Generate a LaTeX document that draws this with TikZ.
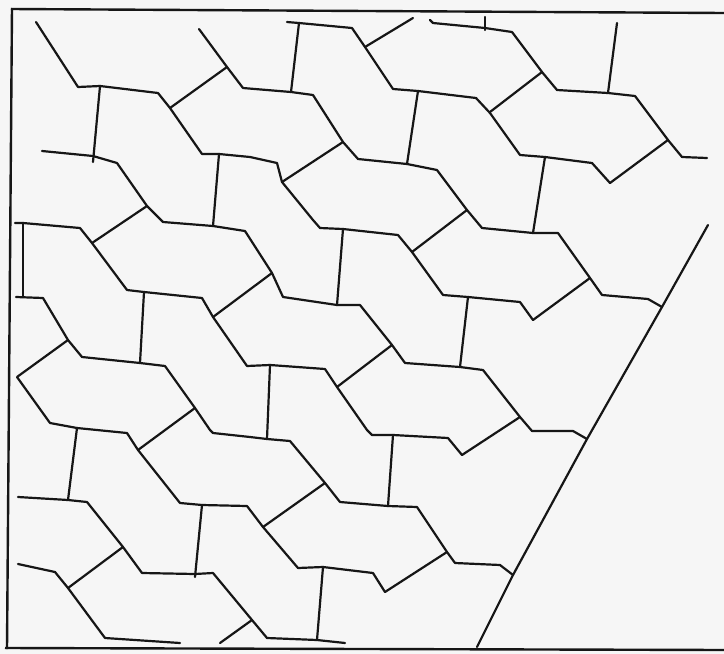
\documentclass[tikz,border=0pt]{standalone}
\usetikzlibrary{calc}
\definecolor{paper}{RGB}{246,246,246}
\definecolor{ink}{RGB}{22,22,22}
\tikzset{
  tl/.style={draw=ink, line width=2.2pt, line join=round, line cap=round},
  fr/.style={draw=ink, line width=2.4pt, line cap=butt},
}
\begin{document}
\begin{tikzpicture}[x=1pt,y=-1pt]
\fill[paper] (0,0) rectangle (724,654);
\useasboundingbox (0,0) rectangle (724,654);
% frame
\draw[fr] (11,9) -- (724,13);
\draw[fr] (12,8) -- (7,649);
\draw[fr] (5,648) -- (724,650);
% tiling chains
\draw[tl] (36,22)--(78,87)--(100,86)--(158,93)--(170,108)--(202,154)--(219,154)--(250,157)--(277,163)--(282,182)--(313,220)--(320,228)--(343,229)--(398,235)--(412,252)--(443,295)--(468,297)--(520,302)--(533,320);
\draw[tl] (100,86)--(93,162);
\draw[tl] (170,108)--(227,67);
\draw[tl] (199,29)--(227,67)--(243,88)--(291,92)--(313,95)--(343,142)--(358,159)--(407,164)--(437,170)--(467,210)--(482,228)--(533,233)--(558,233)--(590,278)--(602,295)--(648,299)--(662,307);
\draw[tl] (219,154)--(213,226);
\draw[tl] (42,151)--(93,156)--(117,163)--(147,206)--(163,222)--(213,226)--(245,231)--(272,273)--(283,297)--(337,305)--(360,305)--(392,345)--(405,363)--(460,367)--(483,370)--(520,417)--(532,431)--(573,431)--(587,439);
\draw[tl] (147,206)--(92,243);
\draw[tl] (287,22)--(299,23)--(352,28)--(365,47)--(393,89)--(418,91)--(476,98)--(490,113)--(520,155)--(545,157)--(592,163)--(610,183);
\draw[tl] (299,23)--(291,92);
\draw[tl] (365,47)--(413,18);
\draw[tl] (430,20)--(433,23)--(485,28)--(512,32)--(542,72)--(557,90)--(608,93)--(635,96)--(668,140)--(682,157)--(707,158);
\draw[tl] (485,17)--(485,30);
\draw[tl] (617,23)--(608,93);
\draw[tl] (542,72)--(490,112);
\draw[tl] (668,140)--(610,183);
\draw[tl] (343,142)--(282,182);
\draw[tl] (418,91)--(407,164);
\draw[tl] (545,157)--(533,233);
\draw[tl] (467,210)--(412,252);
\draw[tl] (15,223)--(23,223)--(80,228)--(92,243)--(127,290)--(144,292)--(202,298)--(213,317)--(247,366)--(270,365)--(325,369)--(337,387)--(367,430)--(372,435)--(393,435)--(448,438)--(462,455);
\draw[tl] (23,223)--(23,297);
\draw[tl] (16,297)--(43,298)--(68,340)--(82,357)--(140,363)--(165,366)--(195,408)--(210,430)--(213,433)--(250,437)--(267,439)--(290,441)--(325,483)--(340,502)--(388,506)--(417,507)--(447,552)--(455,563)--(500,565)--(513,575);
\draw[tl] (144,292)--(140,363);
\draw[tl] (213,317)--(272,273);
\draw[tl] (343,229)--(337,305);
\draw[tl] (468,297)--(460,367);
\draw[tl] (392,345)--(337,387);
\draw[tl] (590,278)--(533,320);
\draw[tl] (68,340)--(17,377)--(50,423)--(77,428)--(127,433)--(138,450)--(180,503)--(202,505)--(247,506)--(263,527)--(298,568)--(323,567)--(373,573)--(385,592);
\draw[tl] (195,408)--(138,450);
\draw[tl] (77,428)--(68,500);
\draw[tl] (270,365)--(267,439);
\draw[tl] (393,435)--(388,506);
\draw[tl] (520,417)--(462,455);
\draw[tl] (325,483)--(263,527);
\draw[tl] (18,497)--(68,500)--(87,502)--(123,547)--(142,573)--(195,574)--(213,573)--(252,620)--(267,638)--(317,640)--(345,643);
\draw[tl] (202,505)--(195,577);
\draw[tl] (123,547)--(68,588);
\draw[tl] (18,564)--(55,572)--(68,588)--(105,638)--(180,643);
\draw[tl] (252,620)--(220,643);
\draw[tl] (323,567)--(317,640);
\draw[tl] (447,552)--(385,592);
% boundary line on the right
\draw[tl] (708,225)--(662,307)--(587,439)--(513,575)--(477,647);
\end{tikzpicture}
\end{document}
